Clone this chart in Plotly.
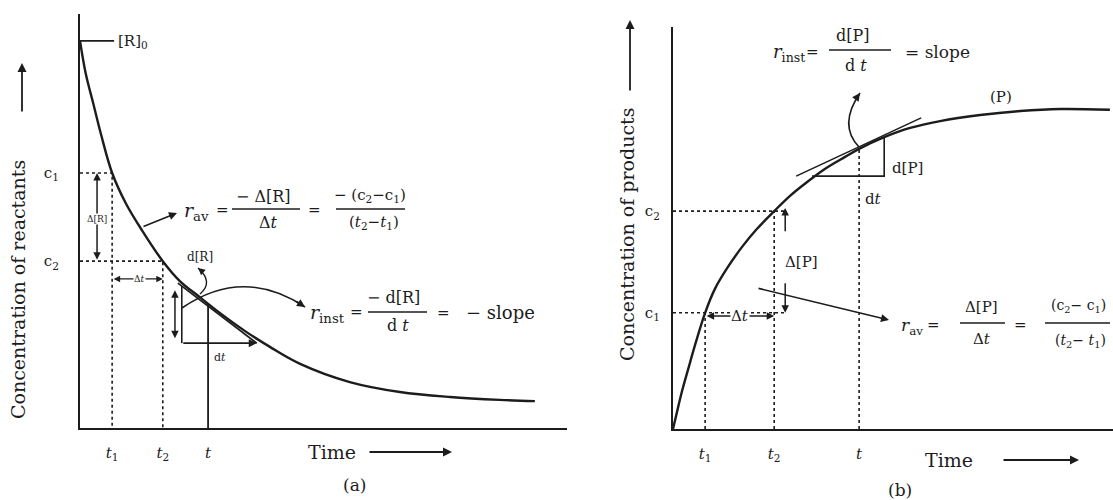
import plotly.graph_objects as go

W, H = 1113, 500
INK = "#1c1c1c"
SERIF = "DejaVu Serif"

# ---------------- data (a): concentration of reactants vs time ----------------
time_a = [0.00, 0.12, 0.27, 0.43, 0.66, 0.94, 1.27, 1.70, 2.05, 2.46, 2.87, 3.39,
          3.90, 4.52, 5.54, 6.57, 7.60, 8.62, 9.34]
conc_a = [9.35, 8.55, 7.85, 7.10, 6.16, 5.43, 4.78, 4.03, 3.55, 3.16, 2.78, 2.34,
          1.96, 1.55, 1.11, 0.87, 0.75, 0.68, 0.65]
R0 = 9.35
t1_a, c1_a = 0.66, 6.16
t2_a, c2_a = 1.70, 4.03
t_a, ct_a = 2.63, 3.00
tangent_a_t = [2.01, 3.63]
tangent_a_c = [3.50, 2.05]
tri_a_t = [2.09, 3.63]      # triangle: vertical side time, right end
tri_a_c = [3.43, 2.05]      # triangle: top of vertical side, base level
dR_arrow_t, dR_arrow_c = 1.95, [3.33, 2.13]
dRav_t = 0.35               # Δ[R] arrow position
dtav_c = 3.60               # Δt arrow level

# ---------------- data (b): concentration of products vs time ----------------
time_b = [0.00, 0.09, 0.20, 0.34, 0.52, 0.73, 0.95, 1.23, 1.57, 1.91, 2.30, 2.66,
          3.02, 3.45, 3.91, 4.23, 4.80, 5.39, 6.07, 6.98, 7.89, 8.80, 9.93]
conc_b = [0.00, 0.42, 0.92, 1.47, 2.16, 2.89, 3.48, 4.00, 4.53, 4.98, 5.42, 5.80,
          6.12, 6.47, 6.77, 6.97, 7.26, 7.49, 7.66, 7.81, 7.91, 7.96, 7.94]
t1_b, c1_b = 0.73, 2.89
t2_b, c2_b = 2.30, 5.42
t_b, ct_b = 4.23, 6.97
guide_end_b = 2.59
tangent_b_t = [2.80, 5.64]
tangent_b_c = [6.29, 7.74]
tri_b_t = [3.16, 4.80]
tri_b_c = [6.29, 7.26]
dP_arrow_t = 2.55
dP_up = [4.88, 5.50]
dP_down = [3.66, 2.89]
dtav_b_c = 2.81

tick_a_vals = [t1_a, t2_a, t_a]
tick_b_vals = [t1_b, t2_b, t_b]
tick_t_text = ["<i>t</i><sub>1</sub>", "<i>t</i><sub>2</sub>", "<i>t</i>"]
tick_c_text = ["c<sub>1</sub>", "c<sub>2</sub>"]

fig = go.Figure()


def line(xs, ys, ax="a", dash="solid", width=2.0):
    xa, ya = ("x", "y") if ax == "a" else ("x2", "y2")
    fig.add_trace(go.Scatter(x=xs, y=ys, mode="lines", xaxis=xa, yaxis=ya,
                             line=dict(color=INK, width=width, dash=dash),
                             hoverinfo="skip", showlegend=False))


# curves
fig.add_trace(go.Scatter(x=time_a, y=conc_a, mode="lines", line=dict(color=INK, width=2.4, shape="spline"),
                         xaxis="x", yaxis="y", showlegend=False, hoverinfo="skip"))
fig.add_trace(go.Scatter(x=time_b, y=conc_b, mode="lines", line=dict(color=INK, width=2.4, shape="spline"),
                         xaxis="x2", yaxis="y2", showlegend=False, hoverinfo="skip"))

# panel (a) guides
line([0, 0.70], [R0, R0], "a", width=1.6)
line([0, t1_a, t1_a], [c1_a, c1_a, 0], "a", dash="dot", width=1.6)
line([0, t2_a, t2_a], [c2_a, c2_a, 0], "a", dash="dot", width=1.6)
line([t_a, t_a], [0, ct_a], "a", width=1.8)
line(tangent_a_t, tangent_a_c, "a", width=1.8)
line([tri_a_t[0], tri_a_t[0]], [tri_a_c[0], tri_a_c[1]], "a", width=1.6)

# panel (b) guides
line([0, guide_end_b], [c1_b, c1_b], "b", dash="dot", width=1.6)
line([0, guide_end_b], [c2_b, c2_b], "b", dash="dot", width=1.6)
line([t1_b, t1_b], [0, c1_b], "b", dash="dot", width=1.6)
line([t2_b, t2_b], [0, c2_b], "b", dash="dot", width=1.6)
line([t_b, t_b], [0, ct_b], "b", dash="dot", width=1.6)
line(tangent_b_t, tangent_b_c, "b", width=1.6)
line([tri_b_t[0], tri_b_t[1], tri_b_t[1]], [tri_b_c[0], tri_b_c[0], tri_b_c[1]], "b", width=1.6)

ann = []
shapes = []


def px(x):
    return x / W


def py(y):
    return 1 - y / H


def data_arrow(x0, y0, x1, y1, ax="a", both=False, width=1.5):
    xa, ya = ("x", "y") if ax == "a" else ("x2", "y2")
    d = dict(x=x1, y=y1, ax=x0, ay=y0, xref=xa, yref=ya, axref=xa, ayref=ya,
             showarrow=True, text="", arrowhead=2, arrowsize=1, arrowwidth=width,
             arrowcolor=INK)
    if both:
        d.update(arrowside="end+start", startarrowhead=2, startarrowsize=1)
    ann.append(d)


def pix_arrow(x0, y0, x1, y1, width=1.6, head=2, size=1.0):
    ann.append(dict(x=px(x1), y=py(y1), xref="paper", yref="paper", ax=x0 - x1, ay=y0 - y1,
                    showarrow=True, text="", arrowhead=head, arrowsize=size,
                    arrowwidth=width, arrowcolor=INK))


def text(s, x, y, size=15, angle=0, bg=None, xanchor="center"):
    d = dict(x=px(x), y=py(y), xref="paper", yref="paper", text=s, showarrow=False,
             font=dict(family=SERIF, size=size, color=INK), textangle=angle,
             xanchor=xanchor, yanchor="middle")
    if bg:
        d.update(bgcolor=bg, borderpad=0)
    ann.append(d)


def bar(x0, x1, y, width=1.4):
    shapes.append(dict(type="line", xref="paper", yref="paper", x0=px(x0), x1=px(x1),
                       y0=py(y), y1=py(y), line=dict(color=INK, width=width)))


def curve(x0, y0, cx, cy, x1, y1, width=1.6):
    shapes.append(dict(type="path", xref="paper", yref="paper",
                       path=f"M {px(x0)},{py(y0)} Q {px(cx)},{py(cy)} {px(x1)},{py(y1)}",
                       line=dict(color=INK, width=width)))


# ---- panel (a) arrows
data_arrow(dRav_t, c2_a, dRav_t, c1_a, "a", both=True)
data_arrow(t1_a, dtav_c, t2_a, dtav_c, "a", both=True, width=1.3)
data_arrow(dR_arrow_t, dR_arrow_c[1], dR_arrow_t, dR_arrow_c[0], "a", both=True)
data_arrow(tri_a_t[0], tri_a_c[1], tri_a_t[1], tri_a_c[1], "a", width=1.6)
pix_arrow(142, 227, 177, 213)
curve(182, 308, 243, 266, 305, 307)
pix_arrow(295, 300.5, 305, 307)
curve(200, 294, 214, 282, 198, 268, width=1.4)
pix_arrow(204, 273, 198, 268, width=1.4)

# ---- panel (b) arrows
data_arrow(t1_b, dtav_b_c, t2_b, dtav_b_c, "b", both=True)
data_arrow(dP_arrow_t, dP_up[0], dP_arrow_t, dP_up[1], "b")
data_arrow(dP_arrow_t, dP_down[0], dP_arrow_t, dP_down[1], "b")
pix_arrow(757, 288, 889, 320)
curve(859, 147, 838, 125, 860, 93)
pix_arrow(855, 100, 860, 93)

# axis direction arrows
pix_arrow(22, 113, 22, 63, width=1.8)
pix_arrow(630, 92, 630, 20, width=1.8)
pix_arrow(368, 452, 452, 452, width=1.8)
pix_arrow(1002, 460, 1079, 460, width=1.8)

# ---- texts panel (a)
text("[R]<sub>0</sub>", 133, 42, 15)
text("Δ[R]", 97, 219, 9, bg="white")
text("Δ<i>t</i>", 139, 279, 9, bg="white")
text("d[R]", 200, 257, 12)
text("d<i>t</i>", 220, 357, 11)
text("<i>r</i><sub>av</sub>", 196, 212, 19)
text("=", 222, 210, 15)
text("− Δ[R]", 263, 196, 16)
bar(232, 300, 209)
text("Δ<i>t</i>", 268, 223, 16)
text("=", 314, 210, 15)
text("− (c<sub>2</sub>−c<sub>1</sub>)", 370, 195, 15)
bar(336, 405, 209)
text("(<i>t</i><sub>2</sub>−<i>t</i><sub>1</sub>)", 374, 223, 15)
text("<i>r</i><sub>inst</sub>", 327, 313, 19)
text("=", 356, 312, 15)
text("− d[R]", 393, 297, 16)
bar(368, 427, 312)
text("d <i>t</i>", 398, 325, 16)
text("=", 443, 313, 15)
text("− slope", 500, 312, 18)
text("Time", 332, 452, 19)
text("(a)", 354, 485, 17)
text("Concentration of reactants", 18, 290, 19, angle=-90)

# ---- texts panel (b)
text("<i>r</i><sub>inst</sub>", 789, 53, 18)
text("=", 812, 52, 15)
text("d[P]", 853, 35, 16)
bar(829, 891, 50)
text("d <i>t</i>", 856, 65, 16)
text("= slope", 937, 52, 17)
text("(P)", 1001, 97, 15)
text("d[P]", 907, 168, 15)
text("d<i>t</i>", 873, 199, 15)
text("Δ[P]", 801, 262, 15)
text("Δ<i>t</i>", 740, 316, 15, bg="white")
text("<i>r</i><sub>av</sub>", 912, 326, 17)
text("=", 933, 325, 15)
text("Δ[P]", 982, 307, 15)
bar(960, 1005, 323)
text("Δ<i>t</i>", 982, 339, 15)
text("=", 1020, 325, 15)
text("(c<sub>2</sub>− c<sub>1</sub>)", 1078, 306, 14)
bar(1045, 1110, 323)
text("(<i>t</i><sub>2</sub>− <i>t</i><sub>1</sub>)", 1080, 341, 14)
text("Time", 949, 460, 19)
text("(b)", 900, 490, 17)
text("Concentration of products", 627, 235, 19, angle=-90)

axis_common = dict(showgrid=False, zeroline=False, showline=True, linecolor=INK, linewidth=2.2,
                   ticks="", tickfont=dict(family=SERIF, size=15, color=INK), fixedrange=True)

fig.update_layout(
    width=W, height=H,
    margin=dict(l=0, r=0, t=0, b=0),
    paper_bgcolor="white", plot_bgcolor="white",
    showlegend=False,
    xaxis=dict(domain=[80 / W, 567 / W], range=[0, 10], anchor="y",
               tickvals=tick_a_vals, ticktext=tick_t_text, ticklabelstandoff=10, **axis_common),
    yaxis=dict(domain=[1 - 428 / H, 1 - 14 / H], range=[0, 10], anchor="x",
               tickvals=[c1_a, c2_a], ticktext=tick_c_text, ticklabelstandoff=16, **axis_common),
    xaxis2=dict(domain=[673 / W, 1.0], range=[0, 10], anchor="y2",
                tickvals=tick_b_vals, ticktext=tick_t_text, ticklabelstandoff=10, **axis_common),
    yaxis2=dict(domain=[1 - 429 / H, 1 - 27 / H], range=[0, 10], anchor="x2",
                tickvals=[c1_b, c2_b], ticktext=tick_c_text, ticklabelstandoff=8, **axis_common),
    annotations=ann,
    shapes=shapes,
)

fig.write_html("out.html", config={"displayModeBar": False},
               post_script="document.body.style.margin='0';document.body.style.overflow='hidden';")
